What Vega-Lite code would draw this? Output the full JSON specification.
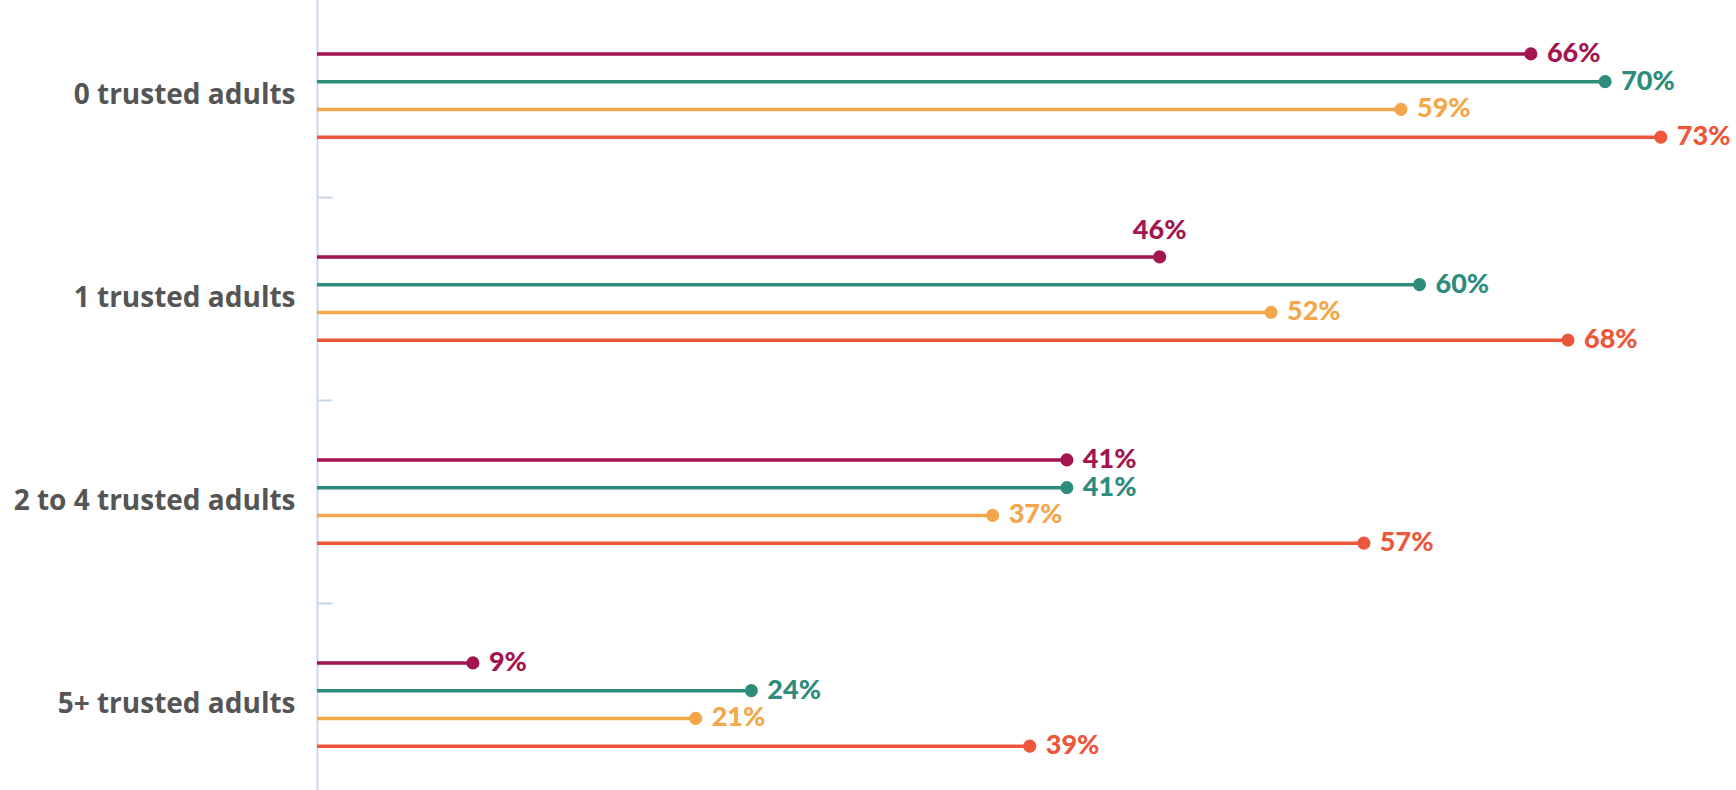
{
  "$schema": "https://vega.github.io/schema/vega-lite/v6.json",
  "width": 1419,
  "height": 812,
  "autosize": {"type": "none"},
  "padding": {"left": 317, "top": -6, "right": 0, "bottom": 0},
  "background": "white",
  "config": {"view": {"stroke": null}},
  "data": {
    "values": [
      {"group": "0 trusted adults", "series": "S1", "value": 66, "label": "66%", "above": false},
      {"group": "0 trusted adults", "series": "S2", "value": 70, "label": "70%", "above": false},
      {"group": "0 trusted adults", "series": "S3", "value": 59, "label": "59%", "above": false},
      {"group": "0 trusted adults", "series": "S4", "value": 73, "label": "73%", "above": false},
      {"group": "1 trusted adults", "series": "S1", "value": 46, "label": "46%", "above": true},
      {"group": "1 trusted adults", "series": "S2", "value": 60, "label": "60%", "above": false},
      {"group": "1 trusted adults", "series": "S3", "value": 52, "label": "52%", "above": false},
      {"group": "1 trusted adults", "series": "S4", "value": 68, "label": "68%", "above": false},
      {"group": "2 to 4 trusted adults", "series": "S1", "value": 41, "label": "41%", "above": false},
      {"group": "2 to 4 trusted adults", "series": "S2", "value": 41, "label": "41%", "above": false},
      {"group": "2 to 4 trusted adults", "series": "S3", "value": 37, "label": "37%", "above": false},
      {"group": "2 to 4 trusted adults", "series": "S4", "value": 57, "label": "57%", "above": false},
      {"group": "5+ trusted adults", "series": "S1", "value": 9, "label": "9%", "above": false},
      {"group": "5+ trusted adults", "series": "S2", "value": 24, "label": "24%", "above": false},
      {"group": "5+ trusted adults", "series": "S3", "value": 21, "label": "21%", "above": false},
      {"group": "5+ trusted adults", "series": "S4", "value": 39, "label": "39%", "above": false}
    ]
  },
  "encoding": {
    "y": {
      "field": "group",
      "type": "nominal",
      "sort": null,
      "title": null,
      "scale": {"paddingInner": 0, "paddingOuter": 0},
      "axis": {
        "domainColor": "#c9d7e7",
        "domainWidth": 2,
        "tickBand": "extent",
        "tickColor": "#c9d7e7",
        "tickWidth": 2,
        "tickSize": -15,
        "labelFont": "Open Sans",
        "labelFontSize": 28,
        "labelFontWeight": "bold",
        "labelColor": "#555555",
        "labelPadding": 37,
        "labelLimit": 0
      }
    },
    "yOffset": {
      "field": "series",
      "type": "nominal",
      "sort": null,
      "scale": {"paddingInner": 0, "paddingOuter": 0, "range": [46, 157]}
    },
    "color": {
      "field": "series",
      "type": "nominal",
      "legend": null,
      "scale": {
        "domain": ["S1", "S2", "S3", "S4"],
        "range": ["#a3154f", "#2d8c7c", "#f4a64a", "#ec563a"]
      }
    }
  },
  "layer": [
    {
      "mark": {"type": "rule", "strokeWidth": 3.5},
      "encoding": {
        "x": {"field": "value", "type": "quantitative", "scale": {"domain": [0.6, 77.05], "nice": false, "zero": false}, "axis": null},
        "x2": {"datum": 0.6}
      }
    },
    {
      "mark": {"type": "circle", "size": 170, "opacity": 1},
      "encoding": {
        "x": {"field": "value", "type": "quantitative"}
      }
    },
    {
      "transform": [{"filter": "!datum.above"}],
      "mark": {"type": "text", "align": "left", "baseline": "middle", "dx": 16, "font": "Lato", "fontSize": 27, "fontWeight": 900},
      "encoding": {
        "x": {"field": "value", "type": "quantitative"},
        "text": {"field": "label"}
      }
    },
    {
      "transform": [{"filter": "datum.above"}],
      "mark": {"type": "text", "align": "center", "baseline": "bottom", "dy": -12, "font": "Lato", "fontSize": 27, "fontWeight": 900},
      "encoding": {
        "x": {"field": "value", "type": "quantitative"},
        "text": {"field": "label"}
      }
    }
  ]
}
